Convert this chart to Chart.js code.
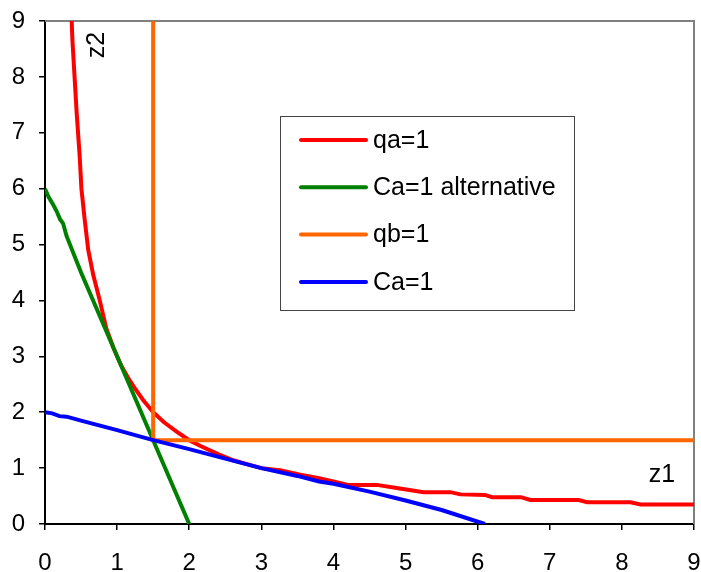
<!DOCTYPE html>
<html>
<head>
<meta charset="utf-8">
<title>qa / Ca</title>
<script src="https://cdn.jsdelivr.net/npm/chart.js@4.4.1/dist/chart.umd.min.js"></script>
<style>
    body{
        margin:0;
        background:#fff;
    }
</style>
</head>
<body>

<canvas id="isoChart" width="701" height="572"></canvas>

<script>
// ================= DATA =================
let seriesNames = ["qa=1", "Ca=1 alternative", "qb=1", "Ca=1"];

let qaX = [0.37, 0.38, 0.41, 0.44, 0.48, 0.505, 0.55, 0.6, 0.67, 0.75, 0.85, 0.95, 1.05, 1.15, 1.25, 1.36, 1.5, 1.65, 1.83, 2.0, 2.15, 2.4, 2.61, 2.8, 3.0, 3.26, 3.54, 3.8, 4.0, 4.2, 4.6, 4.9, 5.25, 5.62, 5.76, 6.1, 6.2, 6.6, 6.73, 7.4, 7.52, 8.12, 8.26, 9.0];
let qaY = [9.0, 8.66, 8.0, 7.34, 6.6, 6.0, 5.45, 4.9, 4.45, 4.05, 3.5, 3.15, 2.85, 2.62, 2.42, 2.22, 2.0, 1.82, 1.65, 1.5, 1.4, 1.25, 1.14, 1.07, 1.0, 0.96, 0.88, 0.82, 0.76, 0.7, 0.7, 0.64, 0.57, 0.57, 0.53, 0.52, 0.48, 0.48, 0.43, 0.43, 0.39, 0.39, 0.35, 0.35];

let altX = [0, 0.05, 0.11, 0.16, 0.21, 0.25, 0.3, 0.5, 1.0, 1.5, 2.0];
let altY = [6.0, 5.85, 5.72, 5.6, 5.45, 5.38, 5.15, 4.5, 3.0, 1.5, 0];

let qbX = [1.5, 1.5, 9.0];
let qbY = [9.0, 1.5, 1.5];

let caX = [0, 0.1, 0.2, 0.3, 0.5, 1.0, 1.5, 2.0, 2.5, 3.0, 3.5, 3.8, 4.0, 4.5, 5.0, 5.5, 6.1];
let caY = [2.0, 1.98, 1.93, 1.92, 1.85, 1.68, 1.5, 1.34, 1.17, 1.0, 0.86, 0.76, 0.72, 0.58, 0.42, 0.25, 0];

let axisTicks = [0, 1, 2, 3, 4, 5, 6, 7, 8, 9];

let colors = ["#ff0000", "#008000", "#ff6600", "#0000ff"];

let fontFamily = "'Liberation Sans', Arial, sans-serif";

// ================= HELPERS =================
function toPoints(xs, ys){

    return xs.map((x, i) => ({ x: x, y: ys[i] }));

}

function makeSeries(index, xs, ys, order){

    return {
        label: seriesNames[index],
        data: toPoints(xs, ys),
        borderColor: colors[index],
        backgroundColor: colors[index],
        borderWidth: 4,
        pointRadius: 0,
        showLine: true,
        tension: 0,
        borderCapStyle: "butt",
        order: order
    };

}

// ================= PLUGINS =================
let framePlugin = {

    id: "frame",

    beforeDatasetsDraw(chart){

        let ctx = chart.ctx;
        let a = chart.chartArea;

        ctx.save();
        ctx.strokeStyle = "#808080";
        ctx.lineWidth = 2;
        ctx.beginPath();
        ctx.moveTo(a.left, a.top);
        ctx.lineTo(a.right, a.top);
        ctx.lineTo(a.right, a.bottom);
        ctx.stroke();
        ctx.restore();

    }

};

let notesPlugin = {

    id: "notes",

    afterDatasetsDraw(chart){

        let ctx = chart.ctx;

        ctx.save();
        ctx.font = "25px " + fontFamily;
        ctx.fillStyle = "#000";
        ctx.textAlign = "center";
        ctx.textBaseline = "middle";

        // z1 label
        ctx.fillText("z1", 662, 475);

        // z2 label, rotated
        ctx.translate(97, 45);
        ctx.rotate(-Math.PI / 2);
        ctx.fillText("z2", 0, 0);
        ctx.restore();

        // legend box
        ctx.save();
        ctx.fillStyle = "#fff";
        ctx.fillRect(280, 116, 294, 194);
        ctx.strokeStyle = "#444";
        ctx.lineWidth = 1;
        ctx.strokeRect(280.5, 116.5, 294, 194);

        ctx.font = "25px " + fontFamily;
        ctx.textAlign = "left";
        ctx.textBaseline = "middle";

        chart.data.datasets.forEach((ds, i) => {

            let y = 140 + i * 47.3;

            ctx.strokeStyle = ds.borderColor;
            ctx.lineWidth = 4;
            ctx.lineCap = "round";
            ctx.beginPath();
            ctx.moveTo(301, y);
            ctx.lineTo(366, y);
            ctx.stroke();

            ctx.fillStyle = "#000";
            ctx.fillText(ds.label, 373, y + 1);

        });

        ctx.restore();

    }

};

// ================= CHART =================
let tickFont = { family: fontFamily, size: 24 };

new Chart(document.getElementById("isoChart"), {

    type: "scatter",

    data: {
        datasets: [
            makeSeries(0, qaX, qaY, 4),
            makeSeries(1, altX, altY, 3),
            makeSeries(2, qbX, qbY, 2),
            makeSeries(3, caX, caY, 1)
        ]
    },

    options: {

        responsive: false,
        animation: false,

        layout: {
            padding: { top: 21, right: 7, left: 0, bottom: 0 }
        },

        plugins: {
            legend: { display: false },
            tooltip: { enabled: false }
        },

        scales: {

            x: {
                type: "linear",
                min: axisTicks[0],
                max: axisTicks[axisTicks.length - 1],
                afterBuildTicks(scale){
                    scale.ticks = axisTicks.map(v => ({ value: v }));
                },
                afterFit(scale){
                    scale.height = 48;
                    scale.paddingLeft = 0;
                    scale.paddingRight = 0;
                },
                ticks: {
                    color: "#000",
                    font: tickFont,
                    padding: 19,
                    maxRotation: 0
                },
                grid: {
                    drawOnChartArea: false,
                    drawTicks: true,
                    tickLength: 6,
                    color: "#000",
                    lineWidth: 1.5
                },
                border: {
                    color: "#000",
                    width: 2
                }
            },

            y: {
                type: "linear",
                min: axisTicks[0],
                max: axisTicks[axisTicks.length - 1],
                afterBuildTicks(scale){
                    scale.ticks = axisTicks.map(v => ({ value: v }));
                },
                afterFit(scale){
                    scale.width = 45;
                    scale.paddingTop = 0;
                    scale.paddingBottom = 0;
                },
                ticks: {
                    color: "#000",
                    font: tickFont,
                    padding: 14
                },
                grid: {
                    drawOnChartArea: false,
                    drawTicks: true,
                    tickLength: 6,
                    color: "#000",
                    lineWidth: 1.5
                },
                border: {
                    color: "#000",
                    width: 2
                }
            }

        }

    },

    plugins: [framePlugin, notesPlugin]

});
</script>

</body>
</html>
